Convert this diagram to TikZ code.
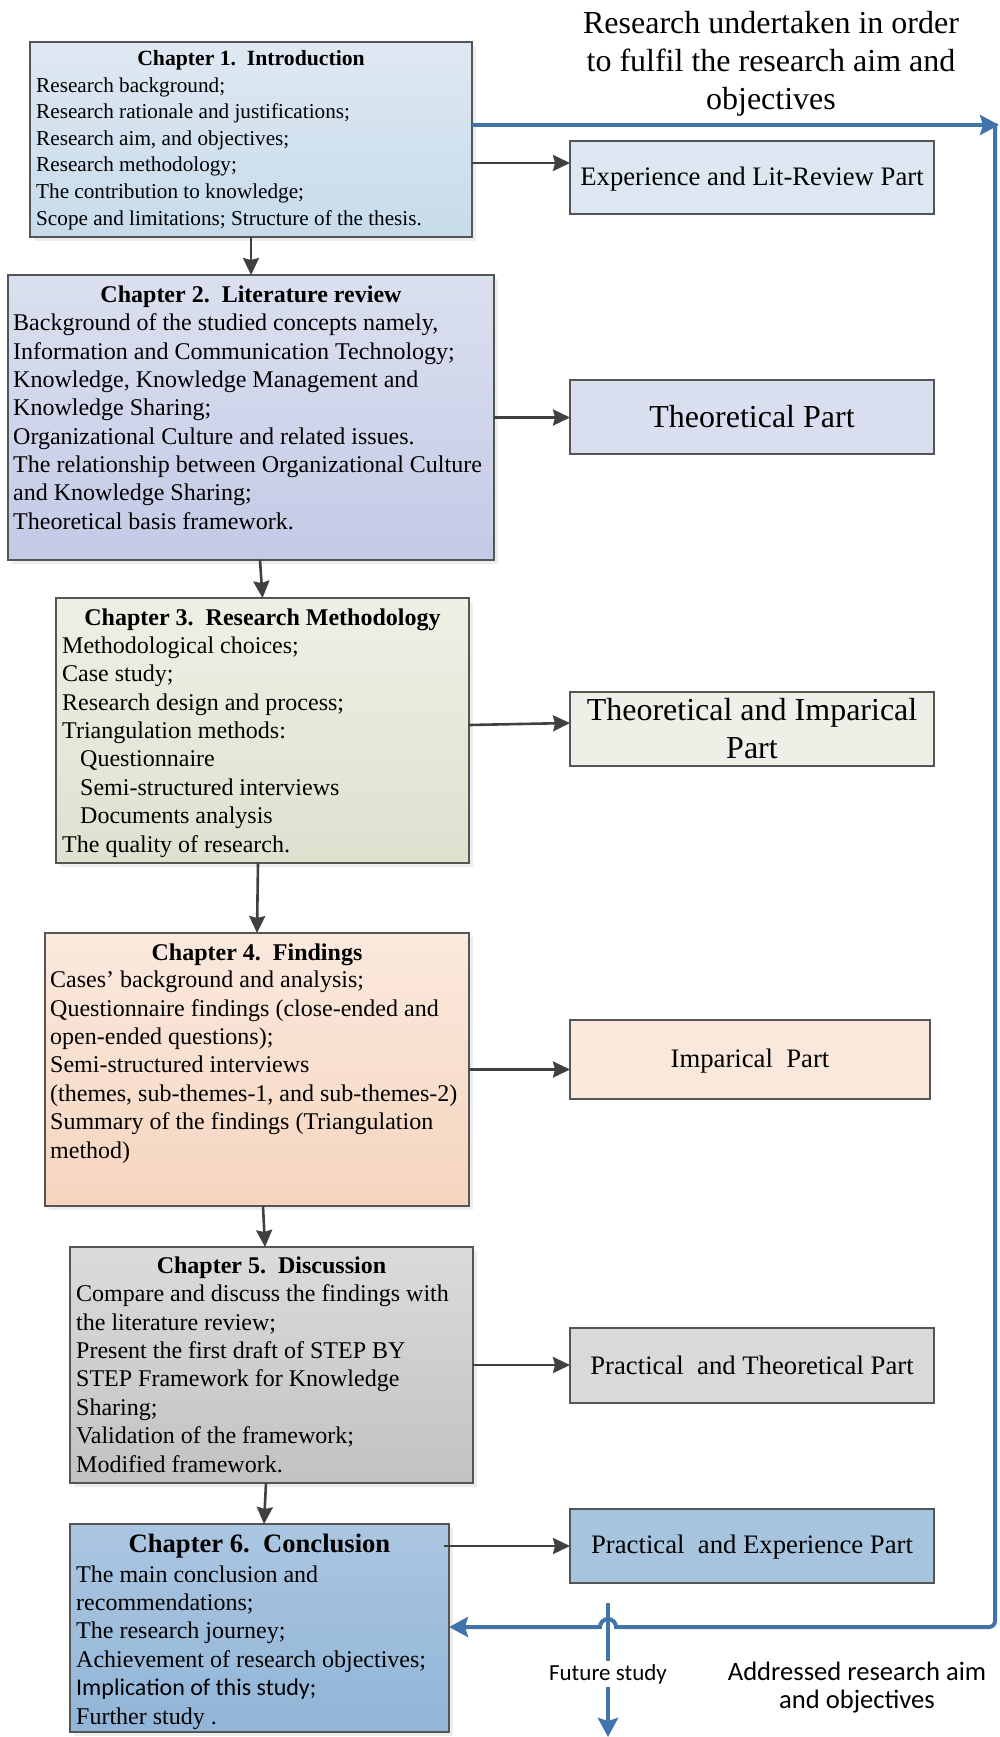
\documentclass[tikz,border=0pt]{standalone}
\usepackage{fontspec}
\setmainfont{Liberation Serif}
\newfontfamily\calib{Carlito}
\usetikzlibrary{arrows.meta,shadows,calc}

\definecolor{blueline}{RGB}{64,116,170}
\definecolor{garr}{RGB}{64,64,64}
\definecolor{bord}{RGB}{85,85,85}
\definecolor{c1t}{RGB}{223,232,242}\definecolor{c1b}{RGB}{198,219,235}
\definecolor{c2t}{RGB}{219,224,239}\definecolor{c2b}{RGB}{196,202,230}
\definecolor{c3t}{RGB}{237,240,228}\definecolor{c3b}{RGB}{221,226,207}
\definecolor{c4t}{RGB}{251,233,222}\definecolor{c4b}{RGB}{245,213,190}
\definecolor{c5t}{RGB}{219,219,219}\definecolor{c5b}{RGB}{194,194,194}
\definecolor{c6t}{RGB}{171,198,225}\definecolor{c6b}{RGB}{145,181,215}
\definecolor{p1}{RGB}{221,231,241}
\definecolor{p2}{RGB}{217,223,238}
\definecolor{p3}{RGB}{236,240,230}
\definecolor{p4}{RGB}{251,232,221}
\definecolor{p5}{RGB}{217,217,217}
\definecolor{p6}{RGB}{167,196,223}

\tikzset{
  chbox/.style={draw=bord, line width=1.2pt, inner sep=0pt, outer sep=0pt,
    anchor=north west,
    drop shadow={shadow xshift=4pt, shadow yshift=-4pt, fill=black!14}},
  partbox/.style={draw=bord, line width=1.2pt, inner sep=0pt, outer sep=0pt,
    anchor=north west, align=center, font=\fontsize{26.7}{32}\selectfont},
  chead/.style={anchor=base, inner sep=0pt, font=\bfseries\fontsize{24}{28.4}\selectfont},
  cbody/.style={anchor=base west, inner sep=0pt, align=left, font=\fontsize{24}{28.4}\selectfont},
  garrow/.style={draw=garr, line width=2.6pt, -{Stealth[length=17pt,width=16pt,inset=2pt]}},
  bline/.style={draw=blueline, line width=4pt},
  barrow/.style={draw=blueline, line width=4pt, -{Stealth[length=19pt,width=20pt,inset=3pt]}},
}

\begin{document}
\begin{tikzpicture}[x=1pt,y=-1pt]
\useasboundingbox (0,0) rectangle (999,1737);

% title (anchor base = baseline of the last line)
\node[anchor=base, inner sep=0pt, align=center, font=\fontsize{32}{38}\selectfont] (title) at (771,109)
  {Research undertaken in order\\to fulfil the research aim and\\objectives};

% chapter boxes
\node[chbox, top color=c1t, bottom color=c1b, minimum width=442pt, minimum height=195pt] (ch1) at (30,42) {};
\node[chbox, top color=c2t, bottom color=c2b, minimum width=486pt, minimum height=285pt] (ch2) at (8,275) {};
\node[chbox, top color=c3t, bottom color=c3b, minimum width=413pt, minimum height=265pt] (ch3) at (56,598) {};
\node[chbox, top color=c4t, bottom color=c4b, minimum width=424pt, minimum height=273pt] (ch4) at (45,933) {};
\node[chbox, top color=c5t, bottom color=c5b, minimum width=403pt, minimum height=236pt] (ch5) at (70,1247) {};
\node[chbox, top color=c6t, bottom color=c6b, minimum width=379pt, minimum height=208pt] (ch6) at (70,1524) {};

% chapter 1 text
\node[chead, font=\bfseries\fontsize{21.7}{26.6}\selectfont] (h1) at (251,66) {Chapter 1.\ \ Introduction};
\node[cbody, font=\fontsize{21.2}{26.6}\selectfont] (b1) at (36,225)
  {Research background;\\Research rationale and justifications;\\Research aim, and objectives;\\Research methodology;\\The contribution to knowledge;\\Scope and limitations; Structure of the thesis.};

% chapter 2 text
\node[chead] (h2) at (251,302) {Chapter 2.\ \ Literature review};
\node[cbody, font=\fontsize{24}{28.3}\selectfont] (b2) at (13,529)
  {Background of the studied concepts namely,\\Information and Communication Technology;\\Knowledge, Knowledge Management and\\Knowledge Sharing;\\Organizational Culture and related issues.\\The relationship between Organizational Culture\\and Knowledge Sharing;\\Theoretical basis framework.};

% chapter 3 text
\node[chead] (h3) at (262.5,625) {Chapter 3.\ \ Research Methodology};
\node[cbody] (b3) at (62,852)
  {Methodological choices;\\Case study;\\Research design and process;\\Triangulation methods:\\\hspace*{18pt}Questionnaire\\\hspace*{18pt}Semi-structured interviews\\\hspace*{18pt}Documents analysis\\The quality of research.};

% chapter 4 text
\node[chead] (h4) at (257,960) {Chapter 4.\ \ Findings};
\node[cbody] (b4) at (50,1158)
  {Cases’ background and analysis;\\Questionnaire findings (close-ended and\\open-ended questions);\\Semi-structured interviews\\(themes, sub-themes-1, and sub-themes-2)\\Summary of the findings (Triangulation\\method)};

% chapter 5 text
\node[chead] (h5) at (271.5,1273) {Chapter 5.\ \ Discussion};
\node[cbody] (b5) at (76,1472)
  {Compare and discuss the findings with\\the literature review;\\Present the first draft of STEP BY\\STEP Framework for Knowledge\\Sharing;\\Validation of the framework;\\Modified framework.};

% chapter 6 text
\node[chead, font=\bfseries\fontsize{26.6}{30}\selectfont] (h6) at (259.5,1552) {Chapter 6.\ \ Conclusion};
\node[cbody] (b6) at (76,1724)
  {The main conclusion and\\recommendations;\\The research journey;\\Achievement of research objectives;\\{\calib Implication of this study;}\\Further study .};

% part boxes
\node[partbox, fill=p1, minimum width=364pt, minimum height=73pt, text height=20pt, text depth=4pt] (exp) at (570,141) {Experience and Lit-Review Part};
\node[partbox, fill=p2, minimum width=364pt, minimum height=74pt, font=\fontsize{32}{38}\selectfont] (theo) at (570,380) {Theoretical Part};
\node[partbox, fill=p3, minimum width=364pt, minimum height=74pt, font=\fontsize{32}{38}\selectfont] (ti) at (570,692) {Theoretical and Imparical\\Part};
\node[partbox, fill=p4, minimum width=360pt, minimum height=79pt, text height=20pt, text depth=4pt] (imp) at (570,1020) {Imparical\ \ Part};
\node[partbox, fill=p5, minimum width=364pt, minimum height=75pt] (pt) at (570,1328) {Practical\ \ and Theoretical Part};
\node[partbox, fill=p6, minimum width=364pt, minimum height=74pt, text height=19pt, text depth=5pt] (pe) at (570,1509) {Practical\ \ and Experience Part};

% side labels
\node[anchor=base, inner sep=3pt, font=\calib\fontsize{23}{27}\selectfont] (fs) at (608,1680) {Future study};
\node[anchor=base, inner sep=0pt, align=center, font=\calib\fontsize{26.6}{28}\selectfont] (addr) at (857,1708)
  {Addressed research aim\\and objectives};

% coordinates
\coordinate (y1) at (0,163);
\coordinate (y5) at (0,725);
\coordinate (tr) at (995,125);
\coordinate (br) at (995,1627);
\coordinate (fstop) at (608,1603);
\coordinate (fsbot) at (608,1737);

% gray arrows
\draw[garrow] (ch1.east |- y1) -- (exp.west |- y1);
\draw[garrow] (ch1.south) -- (ch2.north -| ch1.south);
\draw[garrow] (ch2.east) -- (theo.west |- ch2.east);
\draw[garrow] ([xshift=9pt]ch2.south) -- (ch3.north);
\draw[garrow] (ch3.east |- y5) -- ([yshift=6pt]ti.west);
\draw[garrow] ([xshift=-4.5pt]ch3.south) -- (ch4.north);
\draw[garrow] (ch4.east) -- (imp.west |- ch4.east);
\draw[garrow] ([xshift=6pt]ch4.south) -- ([xshift=-6.5pt]ch5.north);
\draw[garrow] (ch5.east) -- (pt.west |- ch5.east);
\draw[garrow] ([xshift=-5.5pt]ch5.south) -- ([xshift=4.5pt]ch6.north);
\draw[garrow] ([xshift=-5pt]ch6.east |- pe.west) -- (pe.west);

% blue connectors
\draw[barrow] (ch1.east |- tr) -- ([xshift=4pt]tr);
\draw[barrow] ([yshift=2pt]tr) [rounded corners=6pt] -- (br) -- (700,1627) [sharp corners] -- (616,1627)
  arc (0:-180:8) -- (ch6.east |- br);
\draw[bline] (fstop) -- (fs.north);
\draw[barrow] (fs.south) -- (fsbot);
\end{tikzpicture}
\end{document}
